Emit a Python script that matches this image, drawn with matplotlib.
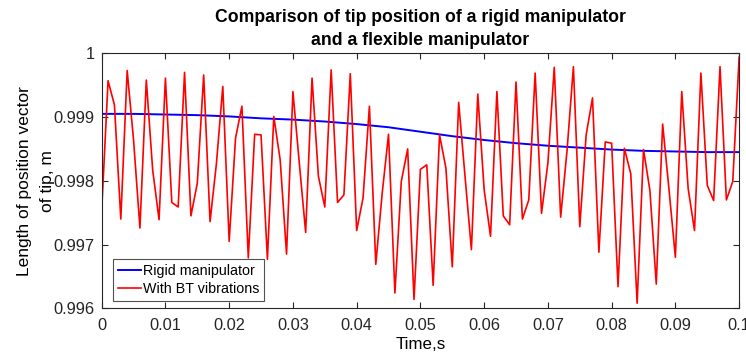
import numpy as np
import matplotlib
matplotlib.use('Agg')
import matplotlib.pyplot as plt

# ── Datos ─────────────────────────────────────────────────────────────────────
t_flex = np.arange(101) * 0.001
r_flex = [
    0.99753, 0.99957, 0.99919, 0.99740, 0.99973, 0.99864, 0.99726, 0.99958,
    0.99817, 0.99739, 0.99961, 0.99766, 0.99759, 0.99970, 0.99745, 0.99796,
    0.99966, 0.99736, 0.99827, 0.99948, 0.99705, 0.99867, 0.99917, 0.99679,
    0.99873, 0.99872, 0.99677, 0.99901, 0.99833, 0.99685, 0.99940, 0.99828,
    0.99719, 0.99961, 0.99807, 0.99759, 0.99974, 0.99766, 0.99778, 0.99968,
    0.99722, 0.99773, 0.99917, 0.99669, 0.99780, 0.99873, 0.99624, 0.99799,
    0.99850, 0.99614, 0.99818, 0.99825, 0.99636, 0.99872, 0.99820, 0.99665,
    0.99923, 0.99807, 0.99692, 0.99936, 0.99786, 0.99713, 0.99940, 0.99745,
    0.99731, 0.99955, 0.99740, 0.99770, 0.99969, 0.99749, 0.99828, 0.99978,
    0.99743, 0.99847, 0.99979, 0.99728, 0.99872, 0.99930, 0.99688, 0.99861,
    0.99859, 0.99634, 0.99851, 0.99811, 0.99608, 0.99849, 0.99785, 0.99638,
    0.99889, 0.99786, 0.99680, 0.99940, 0.99788, 0.99722, 0.99969, 0.99793,
    0.99769, 0.99979, 0.99770, 0.99799, 0.99994,
]

t_rigid = np.arange(21) * 0.005
r_rigid = [
    0.99905, 0.99905, 0.99904, 0.99903, 0.99901, 0.99898, 0.99896, 0.99893,
    0.99889, 0.99884, 0.99877, 0.99870, 0.99864, 0.99859, 0.99855, 0.99852,
    0.99849, 0.99847, 0.99846, 0.99845, 0.99845,
]

x_ticks = [0, 0.01, 0.02, 0.03, 0.04, 0.05, 0.06, 0.07, 0.08, 0.09, 0.1]
x_labels = ['0', '0.01', '0.02', '0.03', '0.04', '0.05', '0.06', '0.07',
            '0.08', '0.09', '0.1']
y_ticks = [0.996, 0.997, 0.998, 0.999, 1.0]
y_labels = ['0.996', '0.997', '0.998', '0.999', '1']

# ── Estilo ────────────────────────────────────────────────────────────────────
plt.rcParams.update({
    'font.family': 'Liberation Sans',
    'font.size': 11,
    'axes.linewidth': 0.8,
    'xtick.direction': 'in',
    'ytick.direction': 'in',
    'xtick.top': True,
    'ytick.right': True,
    'xtick.major.size': 4,
    'ytick.major.size': 4,
    'xtick.color': '#262626',
    'ytick.color': '#262626',
})

fig = plt.figure(figsize=(7.46, 3.53), dpi=100)
ax = fig.add_axes([0.1363, 0.1266, 0.8545, 0.7224])

ax.plot(t_rigid, r_rigid, color='#0000ff', linewidth=1.4, label='Rigid manipulator')
ax.plot(t_flex, r_flex, color='#ff0000', linewidth=1.2, label='With BT vibrations')

ax.set_xlim(0, 0.1)
ax.set_ylim(0.996, 1.0)
ax.set_xticks(x_ticks)
ax.set_xticklabels(x_labels)
ax.set_yticks(y_ticks)
ax.set_yticklabels(y_labels)
ax.tick_params(labelsize=11.8)
ax.tick_params(axis='x', pad=7)
ax.tick_params(axis='y', pad=5)
for s in ax.spines.values():
    s.set_color('#262626')

ax.set_xlabel('Time,s', fontsize=12.2, labelpad=3)
ax.set_ylabel('Length of position vector\nof tip, m', fontsize=12.5,
              labelpad=-1, linespacing=1.7)
ax.set_title('Comparison of tip position of a rigid manipulator\nand a flexible manipulator',
             fontsize=12.7, fontweight='bold', pad=6, linespacing=1.45)

leg = ax.legend(loc='lower left', bbox_to_anchor=(0.0173, 0.0286),
                borderaxespad=0, fontsize=10.3, frameon=True, fancybox=False,
                edgecolor='#262626', handlelength=1.6, handletextpad=0.15,
                borderpad=0.35, labelspacing=0.3)
leg.get_frame().set_linewidth(0.8)

fig.savefig('out.png', dpi=100, facecolor='white')
